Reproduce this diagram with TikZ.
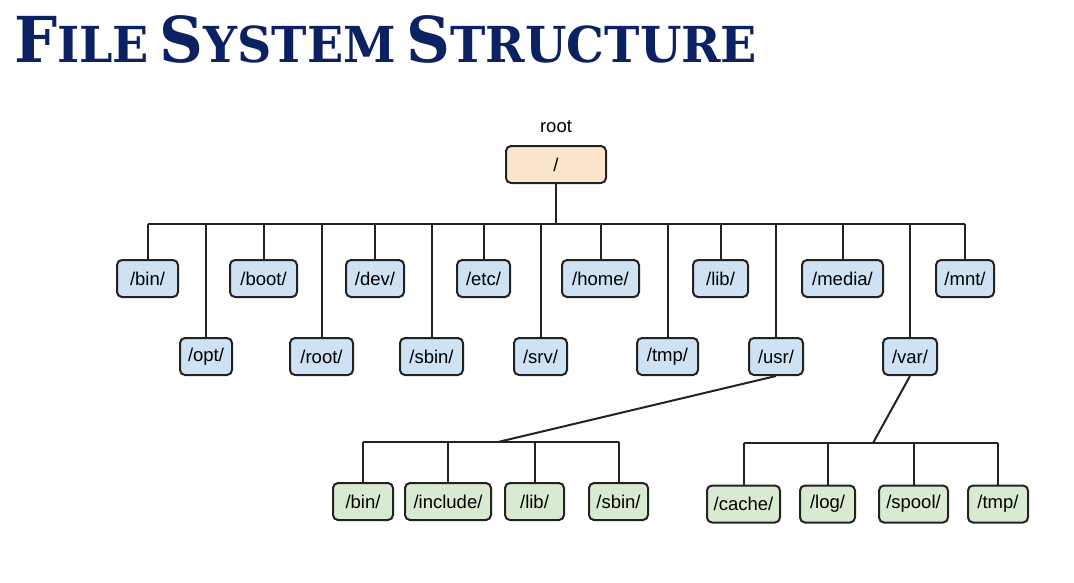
\documentclass[tikz,border=0pt]{standalone}
\usepackage{fontspec}
\setmainfont{Liberation Sans}
\newfontfamily\titlefont{DejaVu Serif}
\usetikzlibrary{positioning}
\definecolor{navytitle}{RGB}{12,33,97}
\definecolor{dirblue}{RGB}{207,226,243}
\definecolor{dirgreen}{RGB}{217,234,211}
\definecolor{dirorange}{RGB}{252,229,205}
\definecolor{edgegray}{RGB}{34,34,34}
% big first letter, smaller rest (fake small caps)
\newcommand{\capword}[2]{{\fontsize{46}{46}\selectfont #1}{\fontsize{36}{36}\selectfont #2}}

\begin{document}
\begin{tikzpicture}[
    x=1pt, y=-1pt,
    dir/.style={
        rectangle, rounded corners=5pt,
        draw=edgegray, line width=2pt,
        minimum height=37pt, inner sep=0pt,
        text=black, font=\fontsize{18.5}{20}\selectfont
    },
    topdir/.style={dir, fill=dirblue},
    subdir/.style={dir, fill=dirgreen},
    rootdir/.style={dir, fill=dirorange},
    link/.style={draw=edgegray, line width=2pt},
]
\useasboundingbox (0,0) rectangle (1074,582);

% Title
\node[anchor=north west, inner sep=0pt, text=navytitle] (title) at (14,15)
    {\resizebox{743pt}{47pt}{\titlefont\bfseries
     \capword{F}{ILE}\hspace{8pt}\capword{S}{YSTEM}\hspace{8pt}\capword{S}{TRUCTURE}}};

% Root
\node[rootdir, minimum width=100pt] (root) at (556,164.5) {/};
\node[font=\fontsize{18.5}{20}\selectfont] (rootlabel) at (556,127) {root};

% First level, upper row
\node[topdir, minimum width=61pt] (bin)   at (147.5,278.5) {/bin/};
\node[topdir, minimum width=67pt] (boot)  at (263.5,278.5) {/boot/};
\node[topdir, minimum width=58pt] (dev)   at (375,278.5)   {/dev/};
\node[topdir, minimum width=53pt] (etc)   at (483.5,278.5) {/etc/};
\node[topdir, minimum width=77pt] (home)  at (600.5,278.5) {/home/};
\node[topdir, minimum width=55pt] (lib)   at (720.5,278.5) {/lib/};
\node[topdir, minimum width=81pt] (media) at (842.5,278.5) {/media/};
\node[topdir, minimum width=58pt] (mnt)   at (965,278.5)   {/mnt/};

% First level, lower row
\node[topdir, minimum width=52pt] (opt)  at (206,356.5)   {/opt/};
\node[topdir, minimum width=63pt] (rootd) at (321.5,356.5) {/root/};
\node[topdir, minimum width=63pt] (sbin) at (431.5,356.5) {/sbin/};
\node[topdir, minimum width=53pt] (srv)  at (540.5,356.5) {/srv/};
\node[topdir, minimum width=61pt] (tmp)  at (667.5,356.5) {/tmp/};
\node[topdir, minimum width=54pt] (usr)  at (776,356.5)   {/usr/};
\node[topdir, minimum width=54pt] (var)  at (910,356.5)   {/var/};

% /usr/ children
\node[subdir, minimum width=60pt] (ubin)     at (363,501.5)   {/bin/};
\node[subdir, minimum width=86pt] (uinclude) at (448,501.5)   {/include/};
\node[subdir, minimum width=59pt] (ulib)     at (534.5,501.5) {/lib/};
\node[subdir, minimum width=59pt] (usbin)    at (618.5,501.5) {/sbin/};

% /var/ children
\node[subdir, minimum width=73pt] (vcache) at (743.5,504) {/cache/};
\node[subdir, minimum width=55pt] (vlog)   at (827.5,504) {/log/};
\node[subdir, minimum width=69pt] (vspool) at (913.5,504) {/spool/};
\node[subdir, minimum width=60pt] (vtmp)   at (998,504)   {/tmp/};

% Bus lines
\coordinate (rootbus) at (556,224);
\coordinate (usrbus) at (498,442);
\coordinate (varbus) at (873,443);

\draw[link] (root.south) -- (rootbus);
\draw[link] (bin.north |- rootbus) -- (mnt.north |- rootbus);
\foreach \d in {bin,boot,dev,etc,home,lib,media,mnt,opt,rootd,sbin,srv,tmp,usr,var}
    \draw[link] (\d.north) -- (\d.north |- rootbus);

\draw[link] (usr.south) -- (usrbus);
\draw[link] (ubin.north |- usrbus) -- (usbin.north |- usrbus);
\foreach \d in {ubin,uinclude,ulib,usbin}
    \draw[link] (\d.north) -- (\d.north |- usrbus);

\draw[link] (var.south) -- (varbus);
\draw[link] (vcache.north |- varbus) -- (vtmp.north |- varbus);
\foreach \d in {vcache,vlog,vspool,vtmp}
    \draw[link] (\d.north) -- (\d.north |- varbus);

\end{tikzpicture}
\end{document}
